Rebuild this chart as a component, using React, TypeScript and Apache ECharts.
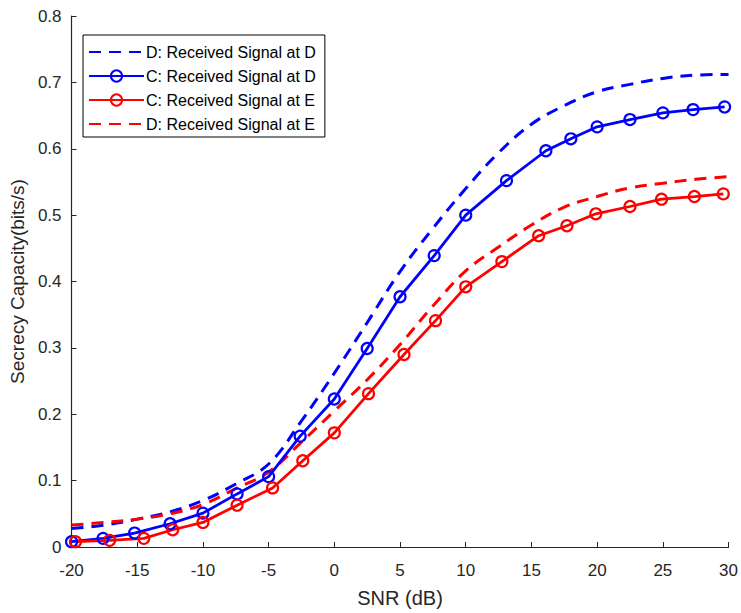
import React, { useEffect, useRef } from "react";
import * as echarts from "echarts";

const blueSolidX = [-20, -17.6, -15.2, -12.5, -10, -7.4, -5, -2.6, 0, 2.5, 5, 7.6, 10, 13.1, 16.1, 18, 20, 22.5, 25, 27.3, 29.7];
const blueSolidY = [0.008, 0.013, 0.021, 0.035, 0.051, 0.08, 0.106, 0.167, 0.223, 0.299, 0.377, 0.439, 0.5, 0.552, 0.597, 0.615, 0.633, 0.644, 0.654, 0.659, 0.663];

const redSolidX = [-19.7, -17.1, -14.5, -12.3, -10, -7.4, -4.7, -2.4, 0, 2.6, 5.3, 7.7, 10, 12.75, 15.55, 17.7, 19.9, 22.5, 24.9, 27.4, 29.6];
const redSolidY = [0.008, 0.01, 0.013, 0.026, 0.037, 0.063, 0.089, 0.13, 0.172, 0.231, 0.29, 0.341, 0.392, 0.43, 0.469, 0.484, 0.502, 0.513, 0.524, 0.528, 0.532];

const dashedX = [-20, -17.5, -15, -12.5, -10, -7.5, -5, -2.5, 0, 2.5, 5, 7.5, 10, 12.5, 15, 17.5, 20, 22.5, 25, 27.5, 30];
const blueDashedY = [0.028, 0.033, 0.042, 0.053, 0.07, 0.095, 0.125, 0.19, 0.262, 0.338, 0.415, 0.48, 0.54, 0.594, 0.637, 0.665, 0.686, 0.697, 0.706, 0.711, 0.712];
const redDashedY = [0.033, 0.037, 0.042, 0.05, 0.064, 0.088, 0.113, 0.158, 0.205, 0.252, 0.305, 0.363, 0.416, 0.452, 0.485, 0.512, 0.528, 0.541, 0.548, 0.554, 0.558];

const seriesNames = [
  "D: Received Signal at D",
  "C: Received Signal at D",
  "C: Received Signal at E",
  "D: Received Signal at E",
];

const BLUE = "#0000ff";
const RED = "#ff0000";
const FONT = "Liberation Sans, Arial, sans-serif";

const zip = (xs: number[], ys: number[]) => xs.map((x, i) => [x, ys[i]]);

export default function App() {
  const ref = useRef<HTMLDivElement>(null);
  useEffect(() => {
    if (!ref.current) return;
    const chart = echarts.init(ref.current, undefined, { renderer: "svg" });
    const dashed = (name: string, color: string, ys: number[]) => ({
      name,
      type: "line",
      data: zip(dashedX, ys),
      smooth: 0.4,
      showSymbol: false,
      symbol: "none",
      clip: false,
      lineStyle: { color, width: 3, type: [12, 8] },
      itemStyle: { color },
      z: 2,
    });
    const solid = (name: string, color: string, xs: number[], ys: number[]) => ({
      name,
      type: "line",
      data: zip(xs, ys),
      symbol: "circle",
      symbolSize: 11,
      clip: false,
      lineStyle: { color, width: 2.8 },
      itemStyle: { color: "rgba(255,255,255,0)", borderColor: color, borderWidth: 2.2 },
      z: 3,
    });
    chart.setOption({
      animation: false,
      backgroundColor: "#ffffff",
      grid: { left: 71, right: 9, top: 16, bottom: 65, containLabel: false },
      legend: {
        orient: "vertical",
        left: 83,
        top: 35,
        padding: [9, 9, 5, 5],
        itemGap: 8,
        itemWidth: 55,
        itemHeight: 14,
        backgroundColor: "#ffffff",
        borderColor: "#000000",
        borderWidth: 1,
        borderRadius: 0,
        textStyle: { fontFamily: FONT, fontSize: 16, color: "#000000", padding: [0, 0, 0, -3] },
        data: [
          { name: seriesNames[0], itemStyle: { opacity: 0 } },
          { name: seriesNames[1] },
          { name: seriesNames[2] },
          { name: seriesNames[3], itemStyle: { opacity: 0 } },
        ],
      },
      xAxis: {
        type: "value",
        min: -20,
        max: 30,
        interval: 5,
        name: "SNR (dB)",
        nameLocation: "middle",
        nameGap: 41,
        nameTextStyle: { fontFamily: FONT, fontSize: 20, color: "#262626" },
        axisLine: { show: true, onZero: false, lineStyle: { color: "#262626", width: 1.2 } },
        axisTick: { show: true, inside: true, length: 5, lineStyle: { color: "#262626" } },
        axisLabel: { fontFamily: FONT, fontSize: 17, color: "#262626", margin: 15 },
        splitLine: { show: false },
      },
      yAxis: {
        type: "value",
        min: 0,
        max: 0.8,
        interval: 0.1,
        name: "Secrecy Capacity(bits/s)",
        nameLocation: "middle",
        nameGap: 40,
        nameTextStyle: { fontFamily: FONT, fontSize: 19, color: "#262626" },
        axisLine: { show: true, onZero: false, lineStyle: { color: "#262626", width: 1.2 } },
        axisTick: { show: true, inside: true, length: 5, lineStyle: { color: "#262626" } },
        axisLabel: {
          fontFamily: FONT,
          fontSize: 17,
          color: "#262626",
          margin: 10,
          formatter: (v: number) => (v === 0 ? "0" : v.toFixed(1)),
        },
        splitLine: { show: false },
      },
      series: [
        dashed(seriesNames[0], BLUE, blueDashedY),
        solid(seriesNames[1], BLUE, blueSolidX, blueSolidY),
        solid(seriesNames[2], RED, redSolidX, redSolidY),
        dashed(seriesNames[3], RED, redDashedY),
      ],
    });
    return () => chart.dispose();
  }, []);
  return <div ref={ref} style={{ width: 741, height: 613, position: "absolute", left: 0, top: 0 }} />;
}
